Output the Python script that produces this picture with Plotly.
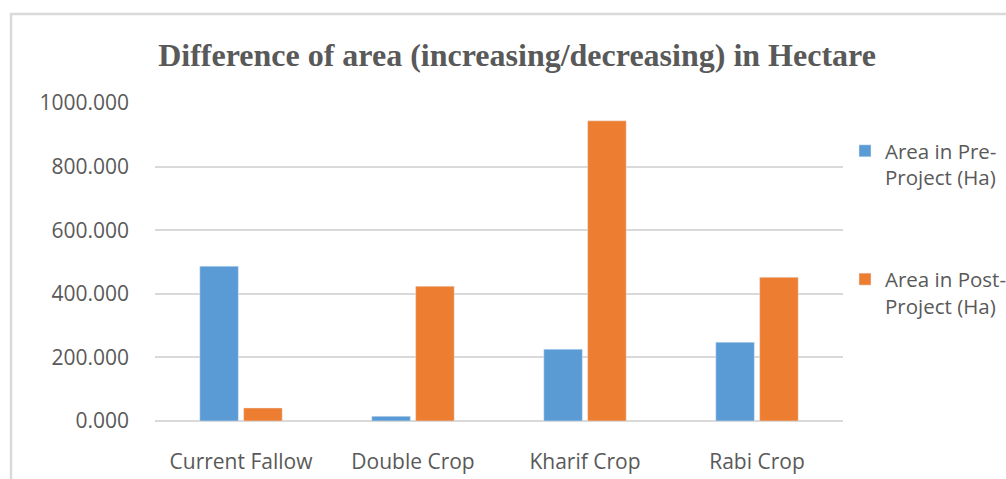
import plotly.graph_objects as go

categories = ['Current Fallow', 'Double Crop', 'Kharif Crop', 'Rabi Crop']
pre_project = [487, 15, 226, 248]
post_project = [41, 424, 944, 452]
y_ticks = [0, 200, 400, 600, 800, 1000]

W, H = 1006, 479
PX0, PX1, PY0, PY1 = 155, 843, 103, 421  # plot area in pixels
pw, ph = PX1 - PX0, PY1 - PY0
L, T = PX0, PY0
R, B = W - PX1, H - PY1


def px_x(p):
    return (p - PX0) / pw


def px_y(p):
    return (PY1 - p) / ph


fig = go.Figure()
fig.add_trace(go.Bar(
    x=categories, y=pre_project,
    name='Area in Pre-<br>Project (Ha)',
    marker_color='#5B9BD5',
    legendgroup='a'
))
fig.add_trace(go.Bar(
    x=categories, y=post_project,
    name='Area in Post-<br>Project (Ha)',
    marker_color='#ED7D31',
    legendgroup='b'
))

# chart border (Excel chart area outline), partly cut off by the window
fig.add_shape(
    type='rect', xref='paper', yref='paper',
    x0=px_x(11), x1=px_x(1030),
    y0=px_y(500), y1=px_y(14),
    line=dict(color='#D9D9D9', width=2.5),
    layer='below'
)

fig.update_layout(
    width=W, height=H,
    margin=dict(l=L, r=R, t=T, b=B, autoexpand=False),
    paper_bgcolor='white',
    plot_bgcolor='white',
    barmode='group',
    bargap=0.49,
    bargroupgap=0.12,
    title=dict(
        text='<b>Difference of area (increasing/decreasing) in Hectare</b>',
        font=dict(family='Liberation Serif', size=32, color='#595959'),
        x=517 / W, xref='container', xanchor='center',
        y=1 - 55 / H, yref='container', yanchor='middle'
    ),
    font=dict(family='Open Sans', size=21, color='#595959'),
    xaxis=dict(
        showgrid=False, showline=False, ticks='',
        tickfont=dict(size=21, color='#595959'),
        ticklabelstandoff=26, automargin=False
    ),
    yaxis=dict(
        range=[0, 1000], tickvals=y_ticks, tickformat='.3f',
        showgrid=True, gridcolor='#D9D9D9', gridwidth=1.5,
        zeroline=True, zerolinecolor='#D9D9D9', zerolinewidth=2,
        showline=False, ticks='',
        tickfont=dict(size=21, color='#595959'),
        ticklabelstandoff=25, automargin=False
    ),
    legend=dict(
        x=px_x(845), xanchor='left',
        y=px_y(131), yanchor='top',
        font=dict(size=20.5, color='#595959'),
        tracegroupgap=72,
        valign='top',
        itemwidth=30,
        borderwidth=0,
        bgcolor='rgba(0,0,0,0)'
    ),
    showlegend=True
)

# drop the default page margin so the figure fills the window exactly
fig.write_html(
    'out.html',
    config={'displayModeBar': False},
    post_script="document.body.style.margin='0';document.body.style.overflow='hidden';"
)
